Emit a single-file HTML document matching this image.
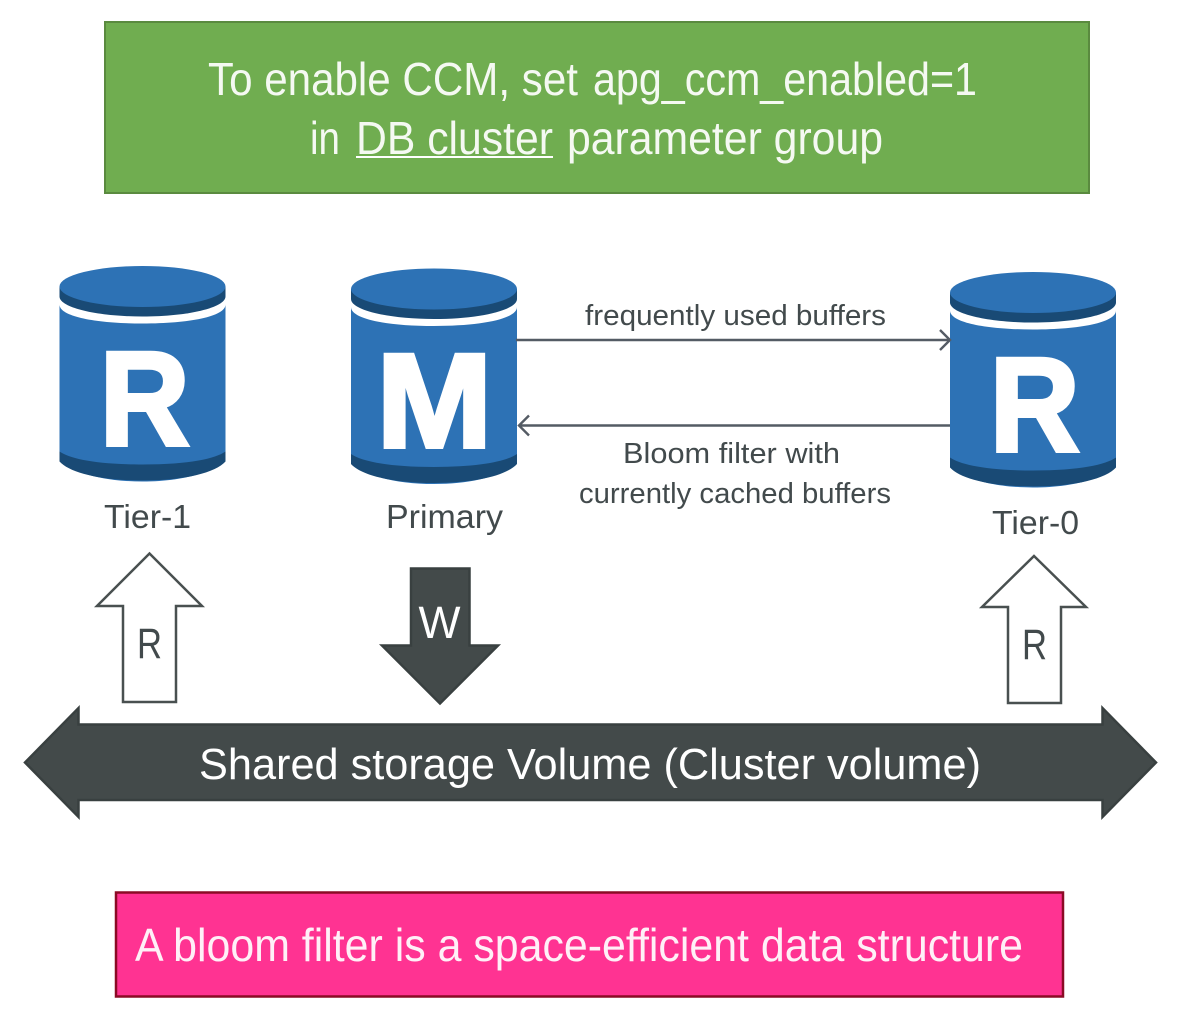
<!DOCTYPE html>
<html><head><meta charset="utf-8"><style>
html,body{margin:0;padding:0;background:#fff}
svg{display:block}
text{font-family:"Liberation Sans",sans-serif}
.l{fill:#424a4c;font-size:29px}
.g{fill:#fff;fill-opacity:.93;font-size:46px}
.c{font-weight:bold;fill:#fff;stroke:#fff;stroke-width:4;font-size:134px}
</style></head><body>
<svg width="1180" height="1030" viewBox="0 0 1180 1030" xmlns="http://www.w3.org/2000/svg">
<defs>
<g id="cyl">
<path d="M0 38V185C0 203 37 215 83 215S166 203 166 185V38C166 50 130 57 83 57S0 50 0 38Z" fill="#2d72b5"/>
<path d="M0 185V195C10 206 40 214 83 214S156 206 166 195V185C156 192 130 198 83 198S10 192 0 185Z" fill="#194a75"/>
<path d="M0 20V30C0 41 37 50 83 50S166 41 166 30V20Z" fill="#194a75"/>
<ellipse cx="83" cy="20" rx="83" ry="20.5" fill="#2d72b5"/>
</g>
</defs>

<rect x="105" y="22" width="984" height="171" fill="#70ad50" stroke="#5a8a3f" stroke-width="2"/>
<text class="g" x="208" y="95" textLength="370" lengthAdjust="spacingAndGlyphs">To enable CCM, set</text>
<text class="g" x="593" y="95" textLength="384" lengthAdjust="spacingAndGlyphs">apg_ccm_enabled=1</text>
<text class="g" x="310" y="154" textLength="30" lengthAdjust="spacingAndGlyphs">in</text>
<text class="g" x="356" y="154" textLength="197" lengthAdjust="spacingAndGlyphs">DB cluster</text>
<rect x="356" y="156" width="197" height="2" fill="#fff"/>
<text class="g" x="567" y="154" textLength="316" lengthAdjust="spacingAndGlyphs">parameter group</text>

<use href="#cyl" x="59.5" y="266.5"/>
<use href="#cyl" x="351" y="269"/>
<use href="#cyl" x="950" y="272.5"/>
<text class="c" x="99.7" y="445" textLength="90" lengthAdjust="spacingAndGlyphs">R</text>
<text class="c" x="376.4" y="447" textLength="116" lengthAdjust="spacingAndGlyphs">M</text>
<text class="c" x="989.7" y="451" textLength="90" lengthAdjust="spacingAndGlyphs">R</text>

<text class="l" x="104" y="528" style="font-size:33px" textLength="87" lengthAdjust="spacingAndGlyphs">Tier-1</text>
<text class="l" x="386" y="528" style="font-size:33px" textLength="117" lengthAdjust="spacingAndGlyphs">Primary</text>
<text class="l" x="992" y="534" style="font-size:33px" textLength="87" lengthAdjust="spacingAndGlyphs">Tier-0</text>

<path d="M516 340H950M940 330L950 340L940 350" fill="none" stroke="#545b64" stroke-width="2.4"/>
<path d="M950 425.5H519M529 415.5L519 425.5L529 435.5" fill="none" stroke="#545b64" stroke-width="2.4"/>
<text class="l" x="585" y="325" textLength="301" lengthAdjust="spacingAndGlyphs">frequently used buffers</text>
<text class="l" x="623" y="463" textLength="217" lengthAdjust="spacingAndGlyphs">Bloom filter with</text>
<text class="l" x="579" y="503" textLength="312" lengthAdjust="spacingAndGlyphs">currently cached buffers</text>

<path d="M149.5 553.5L202 606H176V702H123V606H97Z" fill="#fff" stroke="#495050" stroke-width="2.5"/>
<text class="l" x="137" y="658" style="font-size:43px" textLength="25" lengthAdjust="spacingAndGlyphs">R</text>
<path d="M1034 556L1086 607H1061V703H1008V607H982Z" fill="#fff" stroke="#495050" stroke-width="2.5"/>
<text class="l" x="1022" y="659" style="font-size:43px" textLength="25" lengthAdjust="spacingAndGlyphs">R</text>

<path d="M411 568.500H469.500V645.500H498L440 703.500L382 645.500H411Z" fill="#434a4a" stroke="#394040" stroke-width="2.500"/>
<text x="418.500" y="638" fill="#fff" style="font-size:45px" textLength="42" lengthAdjust="spacingAndGlyphs">W</text>

<path d="M25 762.500L78.500 708V724.500H1102.500V708L1156 762.500L1102.500 817V800H78.500V817Z" fill="#434a4a" stroke="#394040" stroke-width="2.500"/>
<text x="199" y="779" fill="#fff" style="font-size:44px" textLength="782" lengthAdjust="spacingAndGlyphs">Shared storage Volume (Cluster volume)</text>

<rect x="116" y="892.500" width="947" height="104" fill="#ff3392" stroke="#8b0b25" stroke-width="2.500"/>
<text class="g" x="135" y="961" textLength="888" lengthAdjust="spacingAndGlyphs">A bloom filter is a space-efficient data structure</text>
</svg>
</body></html>
